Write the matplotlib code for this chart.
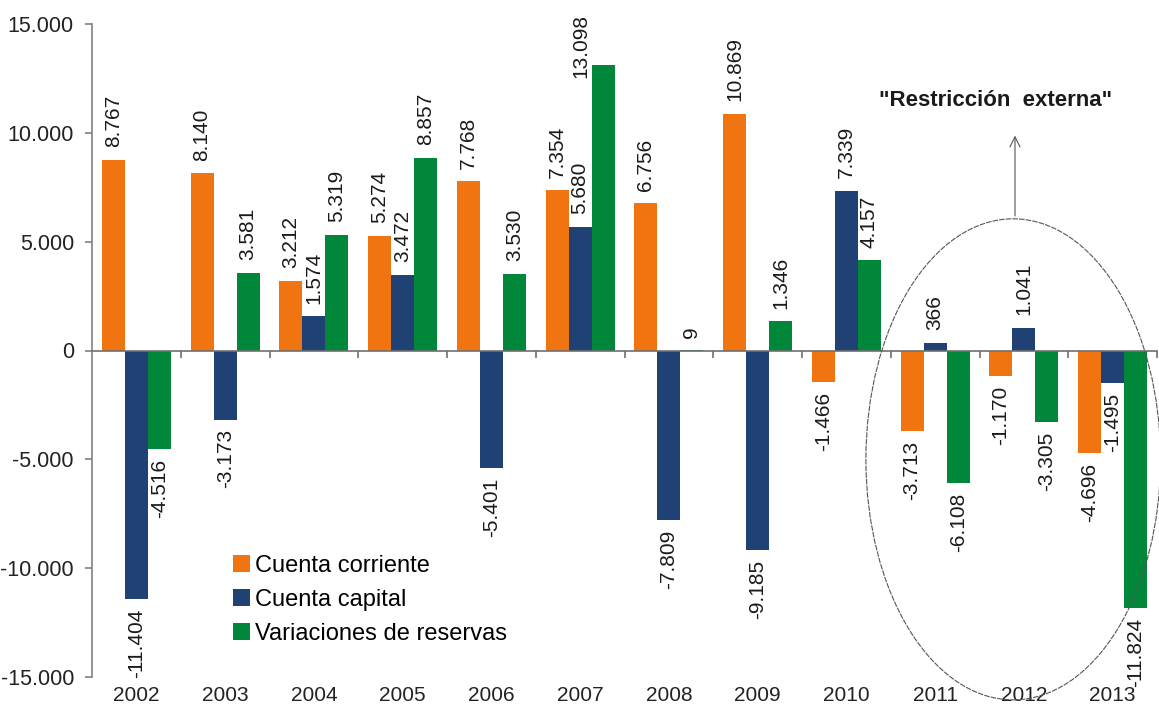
import numpy as np
import matplotlib
matplotlib.use("Agg")
import matplotlib.pyplot as plt
from matplotlib.patches import Ellipse

plt.rcParams['font.family'] = ['Liberation Sans', 'DejaVu Sans']

years = ['2002', '2003', '2004', '2005', '2006', '2007',
         '2008', '2009', '2010', '2011', '2012', '2013']
cuenta_corriente = [8767, 8140, 3212, 5274, 7768, 7354, 6756, 10869, -1466, -3713, -1170, -4696]
cuenta_capital = [-11404, -3173, 1574, 3472, -5401, 5680, -7809, -9185, 7339, 366, 1041, -1495]
var_reservas = [-4516, 3581, 5319, 8857, 3530, 13098, 9, 1346, 4157, -6108, -3305, -11824]
series_names = ['Cuenta corriente', 'Cuenta capital', 'Variaciones de reservas']
colors = ['#F07410', '#1F4173', '#00873A']


def fmt(v):
    return f"{v:,.0f}".replace(',', '.')


fig = plt.figure(figsize=(11.59, 7.13), dpi=100)
ax = fig.add_axes([92 / 1159, 1 - 677 / 713, 1065 / 1159, 653 / 713])

# labels that Excel moved to fit inside the plot area: (series, year index) -> offset in points
label_shift = {(2, 5): (-16, -9)}

x = np.arange(len(years))
w = 0.26
for k, (vals, name, c) in enumerate(zip([cuenta_corriente, cuenta_capital, var_reservas], series_names, colors)):
    pos = x + (k - 1) * w
    ax.bar(pos, vals, width=w, color=c, label=name, zorder=2)
    for i, (xi, v) in enumerate(zip(pos, vals)):
        if v >= 0:
            off = label_shift.get((k, i), (0, 9))
            ax.annotate(fmt(v), (xi, v), xytext=off, textcoords='offset points',
                        rotation=90, ha='center', va='bottom', fontsize=15, color='#1a1a1a', zorder=3)
        else:
            ax.annotate(fmt(v), (xi, v), xytext=(0, -7), textcoords='offset points',
                        rotation=90, ha='center', va='top', fontsize=15, color='#1a1a1a',
                        zorder=3, annotation_clip=False)

ax.set_xlim(-0.5, 11.5)
ax.set_ylim(-15000, 15000)
ax.set_yticks(np.arange(-15000, 15001, 5000))
ax.set_yticklabels([fmt(v) for v in np.arange(-15000, 15001, 5000)])
ax.tick_params(axis='y', labelsize=15.5, colors='#808080', labelcolor='#222222', length=5, width=1.2, pad=8)

ax.spines['top'].set_visible(False)
ax.spines['right'].set_visible(False)
ax.spines['left'].set_color('#808080')
ax.spines['left'].set_linewidth(1.2)
ax.spines['bottom'].set_position(('data', 0))
ax.spines['bottom'].set_color('#707070')
ax.spines['bottom'].set_linewidth(1.2)
ax.set_xticks(np.arange(0.5, 12, 1))
ax.set_xticklabels([])
ax.tick_params(axis='x', direction='out', length=5, width=1.2, colors='#707070')

for xi, yr in zip(x, years):
    ax.text(xi, -0.028, yr, transform=ax.get_xaxis_transform(), ha='center', va='center',
            fontsize=15, color='#222222', clip_on=False)

leg = fig.legend(loc='upper left', bbox_to_anchor=(233 / 1159, 1 - 555 / 713), frameon=False,
                 fontsize=17, handlelength=0.7, handleheight=0.7, handletextpad=0.25,
                 labelspacing=0.5, borderpad=0, borderaxespad=0)

# "Restriccion externa" ellipse + arrow
ell = Ellipse((9.88, -5000), width=3.32, height=22100, fill=False, edgecolor='#555555',
              linewidth=0.8, linestyle=(0, (5, 1)), clip_on=False, zorder=4)
ax.add_patch(ell)
ax.annotate('', xy=(9.9, 10000), xytext=(9.9, 6050),
            arrowprops=dict(arrowstyle='->', color='#555555', lw=0.8, mutation_scale=18))
ax.text(9.68, 11500, '"Restricción  externa"', ha='center', va='center',
        fontsize=16, fontweight='bold', color='#1a1a1a')

fig.savefig('out.png', dpi=100)
